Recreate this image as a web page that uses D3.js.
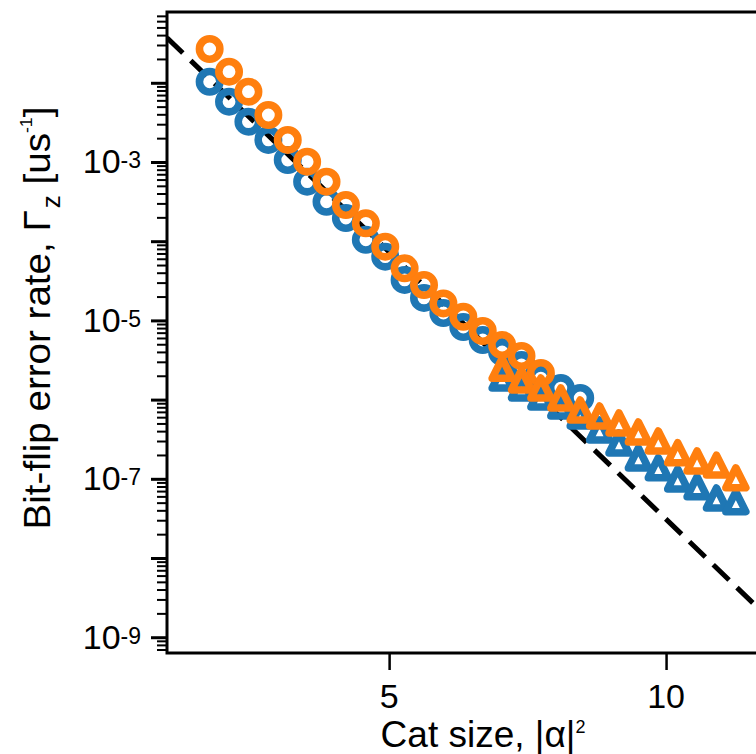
<!DOCTYPE html>
<html>
<head>
<meta charset="utf-8">
<script src="https://cdn.jsdelivr.net/npm/d3@7"></script>
<style>
  body { margin: 0; overflow: hidden; background: #fff; }
  #canvas { width: 756px; height: 754px; }
  text { font-family: "Liberation Sans", Arial, Helvetica, sans-serif; fill: #000; }
</style>
</head>
<body>
<div id="canvas"></div>
<script>
// cat size |alpha|^2 for each method
var circleSize = [1.76, 2.11, 2.46, 2.82, 3.17, 3.52, 3.87, 4.22, 4.58, 4.93,
                  5.28, 5.63, 5.98, 6.34, 6.69, 7.04, 7.39, 7.74, 8.10, 8.45];
var triangleSize = [7.04, 7.39, 7.74, 8.10, 8.45, 8.80, 9.15, 9.50, 9.86, 10.21, 10.56, 10.91, 11.26];

// bit-flip rates [1/us]
var blueCircle = [1.03e-2, 5.77e-3, 3.23e-3, 1.90e-3, 1.06e-3, 5.64e-4, 3.15e-4, 1.96e-4, 1.04e-4, 6.37e-5,
                  3.24e-5, 1.92e-5, 1.24e-5, 8.26e-6, 5.66e-6, 3.99e-6, 2.74e-6, 1.87e-6, 1.40e-6, 1.05e-6];
var orangeCircle = [2.67e-2, 1.38e-2, 7.72e-3, 3.92e-3, 1.90e-3, 1.01e-3, 5.64e-4, 2.86e-4, 1.68e-4, 8.53e-5,
                    4.55e-5, 2.80e-5, 1.64e-5, 1.11e-5, 7.35e-6, 4.89e-6, 3.55e-6, 2.17e-6];
var blueTriangle = [1.87e-6, 1.40e-6, 1.08e-6, 8.30e-7, 6.21e-7, 4.13e-7, 2.83e-7, 1.83e-7, 1.38e-7,
                    9.93e-8, 7.94e-8, 5.72e-8, 5.14e-8];
var orangeTriangle = [2.48e-6, 1.77e-6, 1.40e-6, 1.05e-6, 7.39e-7, 6.21e-7, 5.07e-7, 3.90e-7, 3.00e-7,
                      2.14e-7, 1.68e-7, 1.49e-7, 1.03e-7];

// dashed guide line end points
var fitSize = [0.99, 12.4];
var fitRate = [3.71e-2, 7.43e-10];

var xDomain = [0.99, 12.4];
var yDomain = [6.32e-10, 7.83e-2];
var xTicks = [5, 10];
var yMajorExp = [-9, -8, -7, -6, -5, -4, -3, -2];
var yLabelExp = [-9, -7, -5, -3];

var canvasWidth = 756, canvasHeight = 754;
var margin = {t:12, l:167, b:653, r:799};

var blue = '#1f77b4', orange = '#ff7f0e';

var svg = d3.select('#canvas')
    .append('svg')
    .attr('width', canvasWidth)
    .attr('height', canvasHeight);

var x = d3.scaleLinear().domain(xDomain).range([margin.l, margin.r]);
var y = d3.scaleLog().domain(yDomain).range([margin.b, margin.t]);

svg.append('clipPath')
    .attr('id', 'clip')
    .append('rect')
    .attr('x', margin.l).attr('y', margin.t)
    .attr('width', margin.r - margin.l).attr('height', margin.b - margin.t);

// dashed line behind the markers
svg.append('path')
    .datum(d3.zip(fitSize, fitRate))
    .attr('d', d3.line().x(function(d){ return x(d[0]); }).y(function(d){ return y(d[1]); }))
    .attr('fill', 'none')
    .attr('stroke', '#000')
    .attr('stroke-width', 5)
    .attr('stroke-dasharray', '22,11')
    .attr('clip-path', 'url(#clip)');

var marks = svg.append('g').attr('clip-path', 'url(#clip)');

function drawCircles(xs, ys, color){
    marks.append('g').selectAll('circle')
        .data(d3.zip(xs, ys))
        .enter().append('circle')
        .attr('cx', function(d){ return x(d[0]); })
        .attr('cy', function(d){ return y(d[1]); })
        .attr('r', 10.2)
        .attr('fill', 'none')
        .attr('stroke', color)
        .attr('stroke-width', 7.6);
}

function drawTriangles(xs, ys, color){
    marks.append('g').selectAll('path')
        .data(d3.zip(xs, ys))
        .enter().append('path')
        .attr('d', 'M0,-10L10,10L-10,10Z')
        .attr('transform', function(d){ return 'translate(' + x(d[0]) + ',' + y(d[1]) + ')'; })
        .attr('fill', 'none')
        .attr('stroke', color)
        .attr('stroke-width', 7.5)
        .attr('stroke-linejoin', 'round');
}

drawCircles(circleSize, blueCircle, blue);
drawTriangles(triangleSize, blueTriangle, blue);
drawCircles(circleSize.slice(0, orangeCircle.length), orangeCircle, orange);
drawTriangles(triangleSize, orangeTriangle, orange);

// axes
var yMajor = yMajorExp.map(function(e){ return Math.pow(10, e); });
var yMinor = y.ticks(10).filter(function(v){
    var l = Math.log10(v);
    return Math.abs(l - Math.round(l)) > 1e-6;
});

var gy = svg.append('g')
    .attr('transform', 'translate(' + margin.l + ',0)')
    .call(d3.axisLeft(y).tickValues(yMinor).tickSize(10).tickFormat(''));
gy.selectAll('line').attr('stroke-width', 2);

var gy2 = svg.append('g')
    .attr('transform', 'translate(' + margin.l + ',0)')
    .call(d3.axisLeft(y).tickValues(yMajor).tickSize(16).tickFormat(''));
gy2.selectAll('line').attr('stroke-width', 3);

var gx = svg.append('g')
    .attr('transform', 'translate(0,' + margin.b + ')')
    .call(d3.axisBottom(x).tickValues(xTicks).tickSize(17).tickFormat(''));
gx.selectAll('line').attr('stroke-width', 2.5);

svg.selectAll('.domain').remove();

// frame
svg.append('rect')
    .attr('x', margin.l).attr('y', margin.t)
    .attr('width', margin.r - margin.l).attr('height', margin.b - margin.t)
    .attr('fill', 'none')
    .attr('stroke', '#000')
    .attr('stroke-width', 3);

// tick labels
var yl = svg.append('g').selectAll('text')
    .data(yLabelExp)
    .enter().append('text')
    .attr('x', 141)
    .attr('y', function(e){ return y(Math.pow(10, e)) + 11.5; })
    .attr('text-anchor', 'end')
    .style('font-size', '34px');
yl.append('tspan').text('10');
yl.append('tspan').attr('dy', -5).style('font-size', '23px').text(function(e){ return e; });

svg.append('g').selectAll('text')
    .data(xTicks)
    .enter().append('text')
    .attr('x', function(d){ return x(d); })
    .attr('y', 708)
    .attr('text-anchor', 'middle')
    .style('font-size', '34px')
    .text(function(d){ return d; });

// axis titles
var xt = svg.append('text')
    .attr('x', 483)
    .attr('y', 747)
    .attr('text-anchor', 'middle')
    .style('font-size', '37px');
xt.append('tspan').text('Cat size, |\u03b1|');
xt.append('tspan').attr('dy', -14).style('font-size', '18px').text('2');

var yt = svg.append('text')
    .attr('text-anchor', 'middle')
    .style('font-size', '37px');
yt.append('tspan').text('Bit-flip error rate, \u0393');
yt.append('tspan').attr('dx', 2).attr('dy', 10).style('font-size', '25px').text('z');
yt.append('tspan').attr('dy', -10).text(' [us');
yt.append('tspan').attr('dy', -18).style('font-size', '17px').text('-1');
yt.append('tspan').attr('dy', 18).text(']');

// stretch the title along its length to span the same height as the original
var ytLen = yt.node().getBBox().width;
yt.attr('transform', 'translate(50,318) rotate(-90) scale(' + (423 / ytLen) + ',1)');
</script>
</body>
</html>
